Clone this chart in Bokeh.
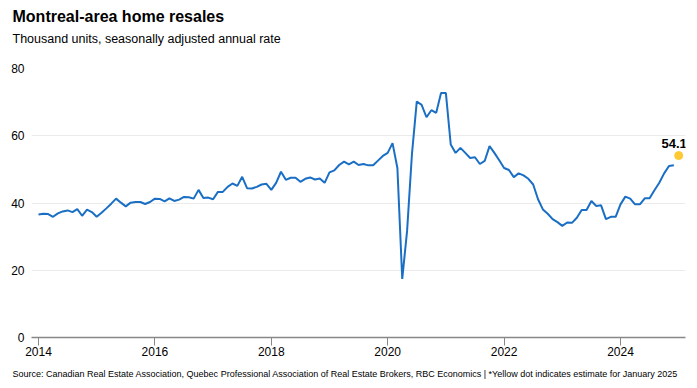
from bokeh.plotting import figure
from bokeh.models import Label, FixedTicker, Range1d, ColumnDataSource, Title
from bokeh.embed import file_html
from bokeh.resources import INLINE

# ---- data ----
start_year = 2014
resales = [
    # 2014
    36.6, 36.8, 36.7, 35.9, 36.9, 37.5, 37.8, 37.3, 38.2, 36.2, 38.0, 37.3,
    # 2015
    35.9, 37.1, 38.4, 39.8, 41.3, 40.1, 39.0, 40.1, 40.3, 40.3, 39.7, 40.3,
    # 2016
    41.3, 41.2, 40.5, 41.4, 40.6, 41.0, 41.8, 41.7, 41.3, 43.9, 41.5, 41.6,
    # 2017
    41.1, 43.3, 43.3, 44.8, 45.8, 45.1, 47.8, 44.4, 44.3, 44.8, 45.5, 45.7,
    # 2018
    43.9, 46.0, 49.3, 46.9, 47.5, 47.5, 46.3, 47.2, 47.6, 47.0, 47.3, 46.0,
    # 2019
    49.1, 49.7, 51.3, 52.3, 51.5, 52.3, 51.3, 51.6, 51.2, 51.2, 52.6, 54.0,
    # 2020
    54.9, 57.8, 50.4, 17.4, 31.7, 54.5, 70.2, 69.2, 65.5, 67.6, 66.8, 72.7,
    # 2021
    72.7, 57.4, 54.9, 56.4, 54.9, 53.4, 53.6, 51.6, 52.5, 56.9, 54.9, 52.7,
    # 2022
    50.4, 49.8, 47.7, 48.8, 48.2, 47.2, 45.5, 41.1, 38.1, 36.8, 35.2, 34.3,
    # 2023
    33.2, 34.2, 34.1, 35.6, 37.9, 37.9, 40.6, 39.1, 39.3, 35.2, 35.9, 35.9,
    # 2024
    39.6, 41.9, 41.3, 39.6, 39.6, 41.4, 41.4, 43.8, 46.0, 48.8, 51.0, 51.2,
]
estimate_value = 54.1           # January 2025 estimate
estimate_label = "54.1"
x_ticks = [2014, 2016, 2018, 2020, 2022, 2024]
y_ticks = [0, 20, 40, 60, 80]

title_text = "Montreal-area home resales"
subtitle_text = "Thousand units, seasonally adjusted annual rate"
source_text = ("Source: Canadian Real Estate Association, Quebec Professional Association of "
               "Real Estate Brokers, RBC Economics | *Yellow dot indicates estimate for January 2025")

# ---- derived ----
x_vals = [start_year + i / 12 for i in range(len(resales))]
est_x = start_year + len(resales) / 12

FONT = "Liberation Sans"
BLUE = "#1a6fc4"
YELLOW = "#ffc933"

p = figure(width=697, height=388, output_backend="svg", toolbar_location=None,
           x_range=Range1d(2013.880, 2025.117), y_range=Range1d(0, 80),
           min_border_left=31, min_border_right=12, min_border_top=67, min_border_bottom=51)
p.outline_line_color = None
p.background_fill_color = "white"
p.border_fill_color = "white"

src = ColumnDataSource(dict(x=x_vals, y=resales))
p.line("x", "y", source=src, line_color=BLUE, line_width=2)
p.scatter([est_x], [estimate_value], size=8, fill_color=YELLOW, line_color=YELLOW)
p.add_layout(Label(x=est_x, y=estimate_value, text=estimate_label, x_offset=-4.5, y_offset=12.5,
                   text_align="center", text_baseline="alphabetic", text_font=FONT,
                   text_font_size="13px", text_font_style="bold", text_color="#000000"))

# axes
p.xaxis.ticker = FixedTicker(ticks=x_ticks)
p.xaxis.minor_tick_line_color = None
p.xaxis.major_tick_in = 0
p.xaxis.major_tick_out = 8
p.xaxis.major_tick_line_color = "#888888"
p.xaxis.axis_line_color = "#888888"
p.xaxis.axis_line_width = 1.5
p.xaxis.major_label_standoff = 1
p.xaxis.major_label_text_font = FONT
p.xaxis.major_label_text_font_size = "12px"
p.xaxis.major_label_text_color = "#000000"

p.yaxis.ticker = FixedTicker(ticks=y_ticks)
p.yaxis.minor_tick_line_color = None
p.yaxis.major_tick_line_color = None
p.yaxis.axis_line_color = None
p.yaxis.major_label_standoff = 1
p.yaxis.major_label_text_font = FONT
p.yaxis.major_label_text_font_size = "12px"
p.yaxis.major_label_text_color = "#000000"

p.xgrid.grid_line_color = None
p.ygrid.grid_line_color = "#ebebeb"
p.ygrid.grid_line_width = 1

# titles and source (first added sits nearest the plot)
p.add_layout(Title(text=" ", align="left", offset=-19, standoff=19.5,
                   text_font=FONT, text_font_size="1px", text_color="#ffffff"), "above")
p.add_layout(Title(text=subtitle_text, align="left", offset=-19, standoff=0,
                   text_font=FONT, text_font_size="12.5px", text_font_style="normal",
                   text_color="#000000"), "above")
p.add_layout(Title(text=title_text, align="left", offset=-19, standoff=10,
                   text_font=FONT, text_font_size="16px", text_font_style="bold",
                   text_color="#000000"), "above")
p.add_layout(Title(text=source_text, align="left", offset=-19, standoff=17,
                   text_font=FONT, text_font_size="9px", text_font_style="normal",
                   text_color="#000000"), "below")

open("out.html", "w").write(file_html(p, INLINE))
